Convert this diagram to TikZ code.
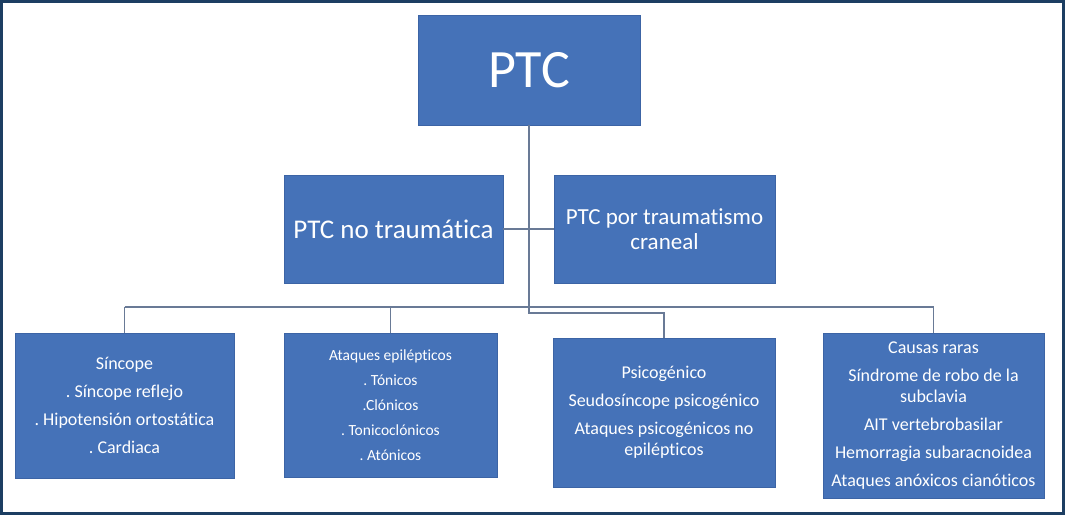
\documentclass[tikz,border=0pt]{standalone}
\usepackage{fontspec}
\setmainfont{Carlito}[Ligatures=NoCommon]
\frenchspacing
\definecolor{boxblue}{RGB}{69,114,184}
\definecolor{boxedge}{RGB}{60,100,165}
\definecolor{linec}{RGB}{105,122,150}
\definecolor{framec}{RGB}{28,62,98}
\begin{document}
\begin{tikzpicture}[x=1pt,y=-1pt,
  box/.style={rectangle, fill=boxblue, draw=boxedge, line width=0.8pt, text=white, align=center, inner sep=0pt},
  conn/.style={draw=linec, line width=1.3pt}]
\useasboundingbox (0,0) rectangle (1065,515);
\fill[white] (0,0) rectangle (1065,515);
\draw[framec, line width=2.6pt] (1.3,1.3) rectangle (1063.7,513.7);
% top
\node[box, minimum width=222pt, minimum height=110pt, font=\fontsize{54}{60}\selectfont] (ptc) at (529,70) {PTC};
\node[box, minimum width=219pt, minimum height=108pt, font=\fontsize{27}{30}\selectfont] (nt) at (393.5,229) {PTC no traumática};
\node[box, minimum width=221pt, minimum height=108pt, font=\fontsize{23}{25}\selectfont] (tc) at (664.5,229) {PTC por traumatismo\\craneal};
% bottom
\node[box, minimum width=219pt, minimum height=145pt, font=\fontsize{18}{21}\selectfont\frenchspacing] (s1) at (124.5,405.5)
  {Síncope\\[7pt]. Síncope reflejo\\[7pt]. Hipotensión ortostática\\[7pt]. Cardiaca};
\node[box, minimum width=213pt, minimum height=144pt, font=\fontsize{15.5}{18.5}\selectfont\frenchspacing] (s2) at (390.5,405)
  {Ataques epilépticos\\[6.5pt]. Tónicos\\[6.5pt].Clónicos\\[6.5pt]. Tonicoclónicos\\[6.5pt]. Atónicos};
\node[box, minimum width=222pt, minimum height=149pt, font=\fontsize{18}{21}\selectfont] (s3) at (664,412.5)
  {Psicogénico\\[7pt]Seudosíncope psicogénico\\[7pt]Ataques psicogénicos no\\epilépticos};
\node[box, minimum width=221pt, minimum height=165pt, font=\fontsize{18}{21}\selectfont] (s4) at (933.5,415.5)
  {Causas raras\\[7pt]Síndrome de robo de la\\subclavia\\[7pt]AIT vertebrobasilar\\[7pt]Hemorragia subaracnoidea\\[7pt]Ataques anóxicos cianóticos};
% connectors
\coordinate (bl) at (124.5,307);
\coordinate (br) at (933.5,307);
\coordinate (jd) at (529,313);
\draw[conn] (nt.east) -- (tc.west);
\draw[conn] (ptc.south) -- (jd) -| (s3.north);
\draw[conn] (bl) -- (br);
\draw[conn] (bl) -- (s1.north);
\draw[conn] (bl -| s2.north) -- (s2.north);
\draw[conn] (br) -- (s4.north);
\end{tikzpicture}
\end{document}
